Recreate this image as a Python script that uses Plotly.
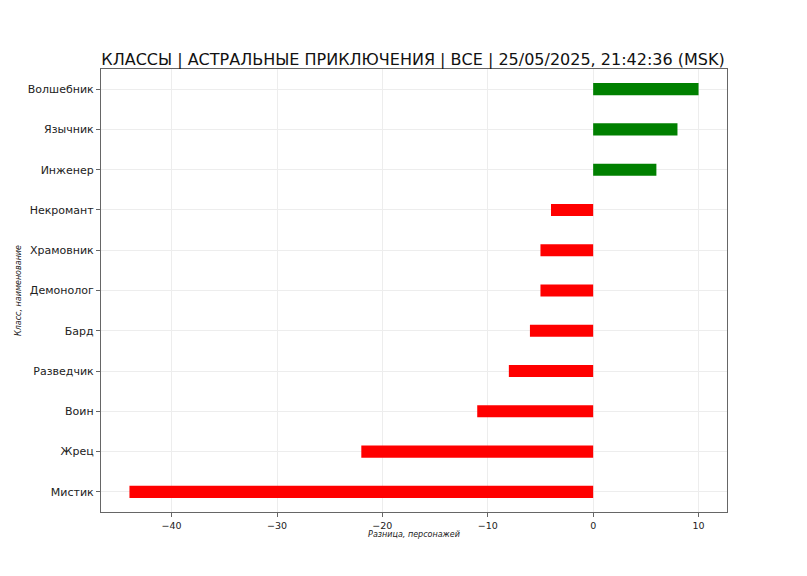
import plotly.graph_objects as go

classes = ["Волшебник", "Язычник", "Инженер", "Некромант", "Храмовник", "Демонолог",
           "Бард", "Разведчик", "Воин", "Жрец", "Мистик"]
diffs = [10, 8, 6, -4, -5, -5, -6, -8, -11, -22, -44]
colors = ["#008000" if v > 0 else "#ff0000" for v in diffs]
x_ticks = [-40, -30, -20, -10, 0, 10]
x_tick_text = ["\u221240", "\u221230", "\u221220", "\u221210", "0", "10"]

title = "КЛАССЫ | АСТРАЛЬНЫЕ ПРИКЛЮЧЕНИЯ | ВСЕ | 25/05/2025, 21:42:36 (MSK)"

fig = go.Figure(go.Bar(
    x=diffs, y=classes, orientation="h", width=0.3,
    marker=dict(color=colors, line=dict(width=0)),
))

font_family = "DejaVu Sans"
fig.update_layout(
    width=807, height=576,
    paper_bgcolor="white", plot_bgcolor="white",
    margin=dict(l=93, r=88, t=61, b=72),
    font=dict(family=font_family, color="#222222"),
    showlegend=False,
    title=dict(text=title, x=405 / 807, xanchor="center", y=1 - 51 / 576, yanchor="middle",
               yref="container", font=dict(size=16, color="#111111")),
)
fig.update_xaxes(
    range=[-46.7, 12.7], tickvals=x_ticks, ticktext=x_tick_text,
    showgrid=True, gridcolor="#ededed", gridwidth=1, zeroline=False,
    showline=True, linecolor="#666666", linewidth=1.2, mirror=True,
    ticks="outside", ticklen=4, tickcolor="#666666", tickfont=dict(size=9.5),
    title=dict(text="<i>Разница, персонажей</i>", font=dict(size=8), standoff=1),
    automargin=False,
)
fig.update_yaxes(
    categoryorder="array", categoryarray=classes[::-1], range=[-0.5, 10.5],
    showgrid=True, gridcolor="#ededed", gridwidth=1, zeroline=False,
    showline=True, linecolor="#666666", linewidth=1.2, mirror=True,
    ticks="outside", ticklen=4, tickcolor="#666666", tickfont=dict(size=11),
    title=dict(text="<i>Класс, наименование</i>", font=dict(size=8), standoff=4),
    automargin=False,
)

fig.write_html("out.html")
